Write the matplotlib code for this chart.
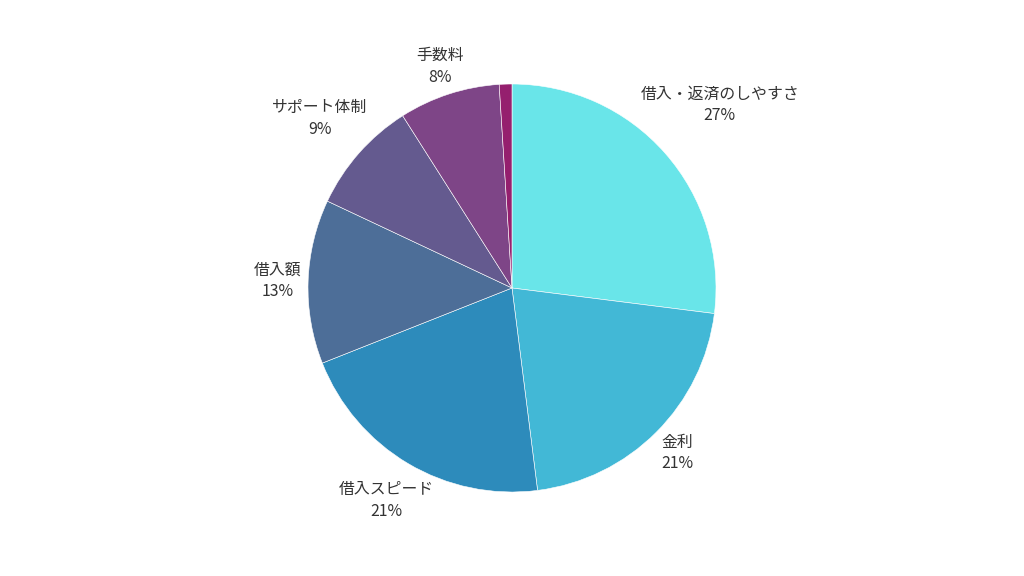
import numpy as np
import matplotlib
matplotlib.use("Agg")
import matplotlib.pyplot as plt

plt.rcParams['font.family'] = ['Noto Sans CJK JP', 'DejaVu Sans']

# ---- data -------------------------------------------------------------------
labels = ["借入・返済のしやすさ", "金利", "借入スピード", "借入額", "サポート体制", "手数料", "その他"]
values = [27, 21, 21, 13, 9, 8, 1]
colors = ["#69e5e9", "#42b8d6", "#2d8bbb", "#4d6e98", "#645a8f", "#7e4587", "#951f6e"]
show_label = [True, True, True, True, True, True, False]

# ---- figure -----------------------------------------------------------------
W, H, R_PX = 1024, 576, 204
fig = plt.figure(figsize=(W / 100, H / 100), dpi=100)
ax = fig.add_axes([0, 0, 1, 1])

wedges, _ = ax.pie(values, colors=colors, startangle=90, counterclock=False,
                   radius=1.0, center=(0, 0),
                   wedgeprops=dict(edgecolor="white", linewidth=0.4))
ax.set_xlim(-W / 2 / R_PX, W / 2 / R_PX)
ax.set_ylim(-H / 2 / R_PX, H / 2 / R_PX)
ax.set_aspect("equal")
ax.axis("off")

total = sum(values)
pcts = [v / total * 100 for v in values]

texts = []
cum = 0.0
for lab, p, show in zip(labels, pcts, show_label):
    mid = (cum + p / 2) / 100 * 2 * np.pi  # clockwise from top
    cum += p
    if not show:
        continue
    t = ax.text(0, 0, f"{lab}\n{p:.0f}%", ha="center", va="center",
                multialignment="center", fontsize=11.4, color="#333333",
                linespacing=1.36)
    texts.append((t, np.sin(mid), np.cos(mid)))


def nearest_dist(cx, cy, w, h):
    dx = max(abs(cx) - w / 2, 0)
    dy = max(abs(cy) - h / 2, 0)
    return np.hypot(dx, dy)


# push each label's box out along its mid-angle until it clears the rim
fig.canvas.draw()
renderer = fig.canvas.get_renderer()
clear = 1.035 * R_PX
for t, s, c in texts:
    bb = t.get_window_extent(renderer)
    w, h = bb.width - 2, bb.height - 6
    lo, hi = 0.0, 3 * R_PX
    for _ in range(60):
        d = (lo + hi) / 2
        if nearest_dist(d * s, d * c, w, h) < clear:
            lo = d
        else:
            hi = d
    t.set_position((hi * s / R_PX, hi * c / R_PX))

fig.savefig("out.png", dpi=100, facecolor="white")
